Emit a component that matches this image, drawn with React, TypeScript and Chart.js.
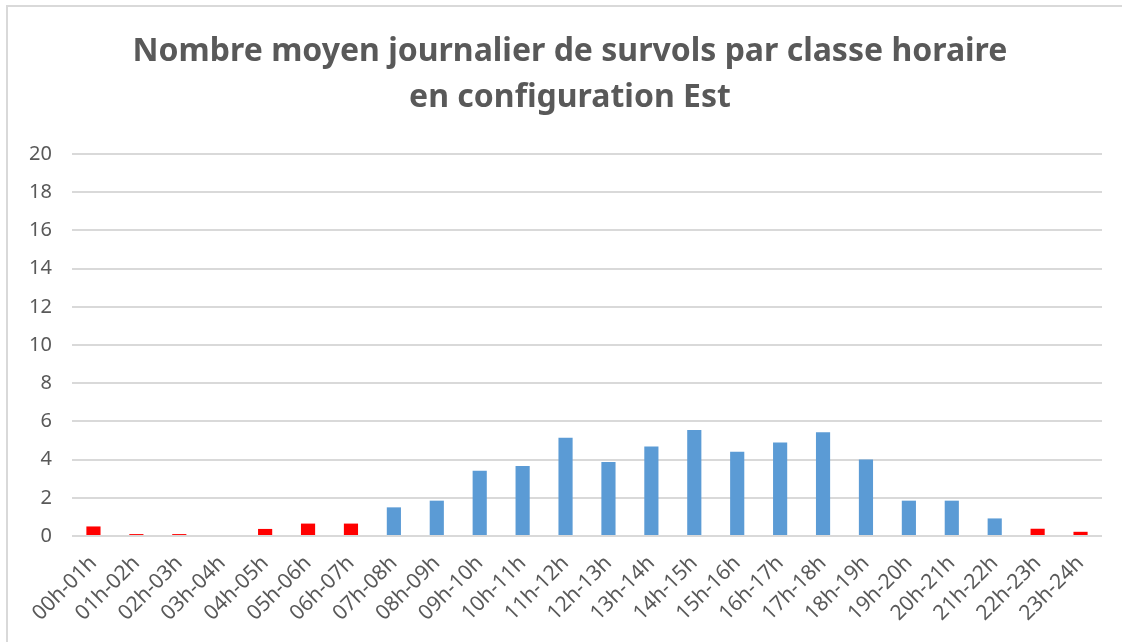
import React, { useEffect, useRef } from "react";
import { Chart, registerables } from "chart.js";

Chart.register(...registerables);

const hours: string[] = [
  "00h-01h", "01h-02h", "02h-03h", "03h-04h", "04h-05h", "05h-06h",
  "06h-07h", "07h-08h", "08h-09h", "09h-10h", "10h-11h", "11h-12h",
  "12h-13h", "13h-14h", "14h-15h", "15h-16h", "16h-17h", "17h-18h",
  "18h-19h", "19h-20h", "20h-21h", "21h-22h", "22h-23h", "23h-24h",
];

const flights: number[] = [
  0.5, 0.1, 0.1, 0, 0.37, 0.65,
  0.65, 1.5, 1.85, 3.42, 3.66, 5.15,
  3.87, 4.68, 5.55, 4.41, 4.89, 5.43,
  4.01, 1.85, 1.85, 0.92, 0.38, 0.22,
];

const nightHour: boolean[] = [
  true, true, true, true, true, true,
  true, false, false, false, false, false,
  false, false, false, false, false, false,
  false, false, false, false, true, true,
];

const titleLines: string[] = [
  "Nombre moyen journalier de survols par classe horaire",
  "en configuration Est",
];

const yMin = 0;
const yMax = 20;
const yStep = 2;

const NIGHT = "#FF0000";
const DAY = "#5B9BD5";
const TEXT = "#595959";
const GRID = "#D9D9D9";

const titlePlugin = {
  id: "centeredTitle",
  afterDraw(chart: any) {
    const ctx = chart.ctx as CanvasRenderingContext2D;
    ctx.save();
    ctx.fillStyle = TEXT;
    ctx.font = "bold 32px 'Noto Sans', sans-serif";
    ctx.textAlign = "center";
    ctx.textBaseline = "middle";
    const cx = 570;
    titleLines.forEach((line, i) => {
      ctx.fillText(line, cx, 52 + i * 46);
    });
    ctx.restore();
  },
};

export default function App() {
  const ref = useRef<HTMLCanvasElement | null>(null);

  useEffect(() => {
    if (!ref.current) return;
    const chart = new Chart(ref.current, {
      type: "bar",
      data: {
        labels: hours,
        datasets: [
          {
            data: flights,
            backgroundColor: nightHour.map((n) => (n ? NIGHT : DAY)),
            borderWidth: 0,
            barPercentage: 0.66,
            categoryPercentage: 0.5,
          },
        ],
      },
      options: {
        animation: false,
        responsive: false,
        maintainAspectRatio: false,
        layout: { padding: { left: 0, right: 20, top: 154, bottom: 0 } },
        plugins: {
          legend: { display: false },
          tooltip: { enabled: false },
          title: { display: false },
        },
        scales: {
          x: {
            grid: { display: false, drawTicks: false },
            border: { display: false },
            ticks: {
              color: TEXT,
              font: { family: "'Noto Sans', sans-serif", size: 21 },
              minRotation: 45,
              maxRotation: 45,
              padding: 15,
              autoSkip: false,
            },
            afterFit: (s: any) => {
              s.height = 106;
            },
          },
          y: {
            min: yMin,
            max: yMax,
            grid: { color: GRID, lineWidth: 2, drawTicks: false },
            border: { display: false },
            ticks: {
              stepSize: yStep,
              color: TEXT,
              font: { family: "'Noto Sans', sans-serif", size: 20 },
              padding: 20,
            },
            afterFit: (s: any) => {
              s.width = 72;
            },
          },
        },
      },
      plugins: [titlePlugin],
    });
    return () => chart.destroy();
  }, []);

  return (
    <div style={{ position: "fixed", left: 0, top: 0, width: 1122, height: 642, background: "#fff", overflow: "hidden" }}>
      <div style={{ position: "absolute", left: 6, top: 5, width: 1140, height: 700, border: "2px solid #D9D9D9" }} />
      <canvas ref={ref} width={1122} height={642} style={{ position: "absolute", left: 0, top: 0 }} />
    </div>
  );
}
